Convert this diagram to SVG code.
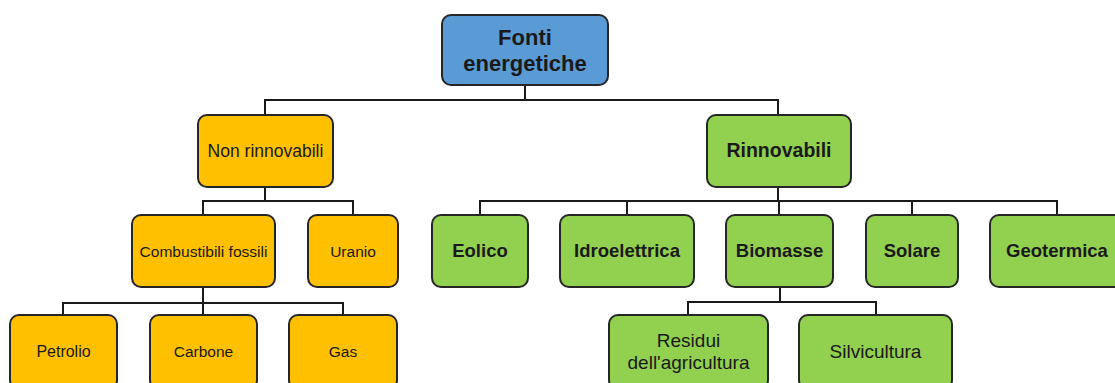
<svg xmlns="http://www.w3.org/2000/svg" width="1115" height="383" viewBox="0 0 1115 383">
  <style>
    .box { stroke: #262626; stroke-width: 2; }
    .root { fill: #5B9BD5; }
    .nr { fill: #FFC000; }
    .r { fill: #92D050; }
    .link { fill: none; stroke: #1a1a1a; stroke-width: 2; }
    text { font-family: "Liberation Sans", Arial, sans-serif; fill: #1a1a1a; text-anchor: middle; dominant-baseline: central; }
    .b { font-weight: bold; }
    .lvl3 { font-size: 18.5px; }
  </style>
  <rect width="1115" height="383" fill="#ffffff"/>

  <!-- connectors -->
  <g id="connectors">
    <path class="link" d="M525 85 V100 M265 115 V100 H778 V115"/>
    <path class="link" d="M265 187 V201 M203 215 V201 H353 V215"/>
    <path class="link" d="M778 187 V201 M480 215 V201 H1057 V215 M627 201 V215 M779 201 V215 M912 201 V215"/>
    <path class="link" d="M203 287 V303 M63 315 V303 H343 V315 M203 303 V315"/>
    <path class="link" d="M780 287 V302 M688 315 V302 H876 V315"/>
  </g>

  <g id="fonti">
    <rect class="box root" x="442" y="15" width="166" height="70" rx="9"/>
    <text class="b" x="525" y="37" font-size="22">Fonti</text>
    <text class="b" x="525" y="63" font-size="22">energetiche</text>
  </g>

  <g id="non-rinnovabili">
    <rect class="box nr" x="198" y="115" width="135" height="72" rx="9"/>
    <text x="265.5" y="151" font-size="17.5">Non rinnovabili</text>
  </g>
  <g id="rinnovabili">
    <rect class="box r" x="707" y="115" width="144" height="72" rx="9"/>
    <text class="b" x="779" y="150" font-size="19.5">Rinnovabili</text>
  </g>

  <g id="combustibili">
    <rect class="box nr" x="132" y="215" width="143" height="72" rx="9"/>
    <text x="203.5" y="251" font-size="15.5" textLength="128" lengthAdjust="spacingAndGlyphs">Combustibili fossili</text>
  </g>
  <g id="uranio">
    <rect class="box nr" x="308" y="215" width="90" height="72" rx="9"/>
    <text x="353" y="251" font-size="15.5">Uranio</text>
  </g>

  <g id="eolico">
    <rect class="box r" x="432" y="215" width="96" height="72" rx="9"/>
    <text class="b lvl3" x="480" y="250">Eolico</text>
  </g>
  <g id="idroelettrica">
    <rect class="box r" x="560" y="215" width="134" height="72" rx="9"/>
    <text class="b lvl3" x="627" y="250">Idroelettrica</text>
  </g>
  <g id="biomasse">
    <rect class="box r" x="726" y="215" width="107" height="72" rx="9"/>
    <text class="b lvl3" x="779.5" y="250">Biomasse</text>
  </g>
  <g id="solare">
    <rect class="box r" x="866" y="215" width="92" height="72" rx="9"/>
    <text class="b lvl3" x="912" y="250">Solare</text>
  </g>
  <g id="geotermica">
    <rect class="box r" x="990" y="215" width="134" height="72" rx="9"/>
    <text class="b lvl3" x="1057" y="250">Geotermica</text>
  </g>

  <g id="petrolio">
    <rect class="box nr" x="10" y="315" width="107" height="74" rx="9"/>
    <text x="63.5" y="351" font-size="16">Petrolio</text>
  </g>
  <g id="carbone">
    <rect class="box nr" x="150" y="315" width="107" height="74" rx="9"/>
    <text x="203.5" y="351" font-size="15.5">Carbone</text>
  </g>
  <g id="gas">
    <rect class="box nr" x="289" y="315" width="108" height="74" rx="9"/>
    <text x="343" y="351" font-size="15.5">Gas</text>
  </g>

  <g id="residui">
    <rect class="box r" x="609" y="315" width="159" height="74" rx="9"/>
    <text x="688.5" y="340" font-size="19">Residui</text>
    <text x="688.5" y="362" font-size="19">dell'agricultura</text>
  </g>
  <g id="silvicultura">
    <rect class="box r" x="799" y="315" width="153" height="74" rx="9"/>
    <text x="875.5" y="351" font-size="19">Silvicultura</text>
  </g>
</svg>
